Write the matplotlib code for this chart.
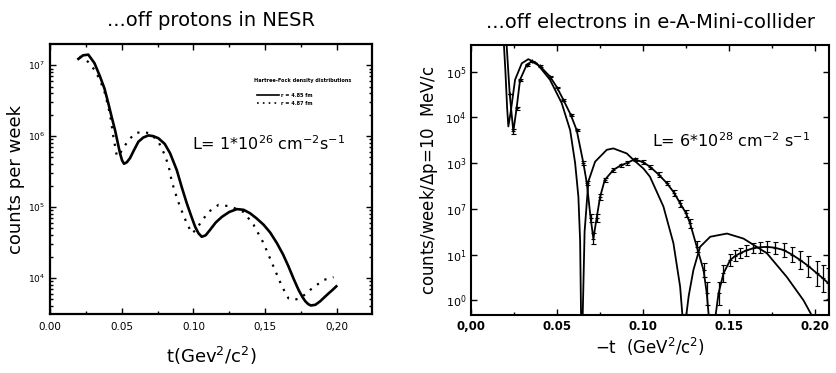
import numpy as np
import matplotlib
matplotlib.use("Agg")
import matplotlib.pyplot as plt
from matplotlib.ticker import FixedLocator, MultipleLocator, NullFormatter

# left panel: protons in NESR (log10 of counts per week)
t_p_solid = [0.0198, 0.0230, 0.0267, 0.0310, 0.0349, 0.0380, 0.0407, 0.0430, 0.0454, 0.0475,
             0.0488, 0.0502, 0.0516, 0.0535, 0.0558, 0.0585, 0.0616, 0.0650, 0.0686, 0.0720,
             0.0756, 0.0800, 0.0837, 0.0884, 0.0920, 0.0954, 0.0985, 0.1012, 0.1035, 0.1058,
             0.1085, 0.1117, 0.1155, 0.1198, 0.1250, 0.1303, 0.1350, 0.1396, 0.1440, 0.1489,
             0.1535, 0.1582, 0.1625, 0.1663, 0.1700, 0.1733, 0.1760, 0.1780, 0.1800, 0.1819,
             0.1850, 0.1884, 0.1915, 0.1942, 0.1970, 0.1996]
lg_p_solid = [7.09, 7.14, 7.15, 7.03, 6.84, 6.67, 6.46, 6.27, 6.08, 5.88,
              5.76, 5.66, 5.61, 5.63, 5.69, 5.80, 5.92, 5.98, 6.01, 6.00,
              5.97, 5.89, 5.76, 5.52, 5.27, 5.05, 4.87, 4.72, 4.63, 4.58,
              4.60, 4.68, 4.78, 4.86, 4.93, 4.97, 4.96, 4.91, 4.84, 4.75,
              4.64, 4.49, 4.33, 4.16, 3.98, 3.83, 3.73, 3.67, 3.63, 3.61,
              3.62, 3.67, 3.73, 3.78, 3.83, 3.88]

t_p_dot = [0.0205, 0.0240, 0.0279, 0.0315, 0.0349, 0.0384, 0.0419, 0.0442, 0.0465, 0.0482,
           0.0500, 0.0547, 0.0593, 0.0640, 0.0698, 0.0756, 0.0790, 0.0826, 0.0849, 0.0880,
           0.0907, 0.0954, 0.0989, 0.1020, 0.1047, 0.1105, 0.1175, 0.1256, 0.1349, 0.1419,
           0.1489, 0.1558, 0.1617, 0.1663, 0.1700, 0.1745, 0.1814, 0.1907, 0.1977]
lg_p_dot = [7.12, 7.10, 7.02, 6.92, 6.79, 6.60, 6.30, 5.99, 5.73, 5.72,
            5.80, 5.94, 6.04, 6.06, 6.04, 5.92, 5.78, 5.59, 5.36, 5.16,
            5.00, 4.77, 4.63, 4.68, 4.77, 4.93, 5.03, 5.01, 4.93, 4.75,
            4.49, 4.16, 3.88, 3.71, 3.69, 3.71, 3.83, 3.97, 4.01]

# right panel: electrons in e-A-Mini-collider (log10 of counts/week/dp)
t_e_a = [0.0185, 0.0200, 0.0210, 0.0217, 0.0230, 0.0256, 0.0295, 0.0333, 0.0382, 0.0459,
         0.0527, 0.0576, 0.0605, 0.0624, 0.0634, 0.0640, 0.0648, 0.0660, 0.0682, 0.0721,
         0.0789, 0.0827, 0.0905, 0.0944, 0.1002, 0.1040, 0.1118, 0.1176, 0.1215, 0.1232,
         0.1245, 0.1265, 0.1292, 0.1331, 0.1390, 0.1487, 0.1583, 0.1719, 0.1835, 0.1932,
         0.1980, 0.1995]
lg_e_a = [6.0, 5.0, 4.2, 3.80, 4.10, 4.82, 5.18, 5.27, 5.18, 4.82,
          4.31, 3.72, 3.00, 2.26, 1.30, -0.5, -0.5, 1.50, 2.60, 3.03,
          3.29, 3.32, 3.21, 3.07, 2.88, 2.70, 2.05, 1.25, 0.30, -0.5,
          -0.5, 0.10, 0.66, 1.17, 1.39, 1.46, 1.35, 1.03, 0.51, 0.00,
          -0.33, -0.6]

t_e_b = [0.0200, 0.0225, 0.0246, 0.0265, 0.0285, 0.0324, 0.0353, 0.0400, 0.0459, 0.0500,
         0.0537, 0.0580, 0.0614, 0.0653, 0.0673, 0.0695, 0.0711, 0.0730, 0.0750, 0.0777,
         0.0827, 0.0870, 0.0905, 0.0950, 0.1000, 0.1040, 0.1090, 0.1138, 0.1180, 0.1215,
         0.1250, 0.1273, 0.1312, 0.1351, 0.1370, 0.1385, 0.1415, 0.1438, 0.1467, 0.1506,
         0.1535, 0.1564, 0.1600, 0.1641, 0.1680, 0.1719, 0.1765, 0.1816, 0.1865, 0.1913,
         0.1960, 0.2010, 0.2045, 0.2077]
lg_e_b = [6.0, 4.5, 3.69, 4.20, 4.82, 5.15, 5.22, 5.12, 4.89, 4.65,
          4.38, 4.05, 3.72, 3.00, 2.56, 1.80, 1.35, 1.80, 2.26, 2.63,
          2.85, 2.95, 3.00, 3.08, 3.02, 2.92, 2.75, 2.56, 2.35, 2.12,
          1.90, 1.68, 1.17, 0.66, 0.15, -0.5, -0.5, 0.15, 0.59, 0.88,
          0.97, 1.03, 1.09, 1.14, 1.16, 1.17, 1.15, 1.10, 1.00, 0.88,
          0.75, 0.59, 0.48, 0.37]
err_e_b = [0.0, 0.0, 0.05, 0.03, 0.02, 0.02, 0.02, 0.02, 0.02, 0.02,
           0.02, 0.03, 0.03, 0.04, 0.05, 0.08, 0.12, 0.08, 0.06, 0.05,
           0.04, 0.04, 0.04, 0.04, 0.04, 0.04, 0.05, 0.05, 0.06, 0.07,
           0.08, 0.09, 0.12, 0.16, 0.25, 0.0, 0.0, 0.25, 0.18, 0.14,
           0.12, 0.11, 0.11, 0.11, 0.12, 0.12, 0.13, 0.15, 0.17, 0.20,
           0.23, 0.27, 0.30, 0.33]

left_ytick_labels = ["$10^7$", "$10^6$", "$10^5$", "$10^4$"]
right_ytick_labels = ["$10^0$", "$10^1$", "$10^7$", "$10^3$", "$10^4$", "$10^5$"]
left_xtick_labels = ["0.00", "0.05", "0.10", "0,15", "0,20"]
right_xtick_labels = ["0,00", "0.05", "0.10", "0.15", "0.20"]

fig = plt.figure(figsize=(8.36, 3.73), dpi=100)

# ---------------- left panel ----------------
ax1 = fig.add_axes([50 / 836, 1 - 314 / 373, 322 / 836, 270 / 373])
ax1.set_yscale("log")
ax1.plot(t_p_solid, 10 ** np.array(lg_p_solid), color="black", lw=1.9)
ax1.plot(t_p_dot, 10 ** np.array(lg_p_dot), color="black", lw=1.6, ls=(0, (1, 3)))
ax1.set_xlim(0, 0.2245)
ax1.set_ylim(10 ** 3.49, 10 ** 7.30)
ax1.yaxis.set_major_locator(FixedLocator([1e7, 1e6, 1e5, 1e4]))
ax1.set_yticklabels(left_ytick_labels, fontsize=6.5)
ax1.yaxis.set_minor_formatter(NullFormatter())
ax1.set_xticks([0, 0.05, 0.10, 0.15, 0.20])
ax1.set_xticklabels(left_xtick_labels, fontsize=7.5)
ax1.xaxis.set_minor_locator(MultipleLocator(0.025))
ax1.tick_params(which="both", direction="in", top=True, right=True, width=1.0)
ax1.tick_params(which="major", length=4)
ax1.tick_params(axis="x", which="major", pad=6)
ax1.tick_params(which="minor", length=2)
for s in ax1.spines.values():
    s.set_linewidth(1.6)
ax1.set_ylabel("counts per week", fontsize=13, labelpad=2)
ax1.set_xlabel("t(Gev$^2$/c$^2$)", fontsize=13, labelpad=9)
ax1.set_title("...off protons in NESR", fontsize=14, pad=13)
ax1.text(0.099, 10 ** 5.80, "L= 1*10$^{26}$ cm$^{-2}$s$^{-1}$", fontsize=11.5)

# tiny legend block
ax1.text(0.142, 10 ** 6.76, "Hartree-Fock density distributions", fontsize=3.6, weight="bold")
ax1.plot([0.144, 0.160], [10 ** 6.58, 10 ** 6.58], color="black", lw=1.2)
ax1.text(0.161, 10 ** 6.55, "r = 4.85 fm", fontsize=3.6, weight="bold")
ax1.plot([0.144, 0.160], [10 ** 6.47, 10 ** 6.47], color="black", lw=1.2, ls=(0, (1, 2.5)))
ax1.text(0.161, 10 ** 6.44, "r = 4.87 fm", fontsize=3.6, weight="bold")

# ---------------- right panel ----------------
ax2 = fig.add_axes([471 / 836, 1 - 315 / 373, 358 / 836, 270 / 373])
ax2.set_yscale("log")
ax2.plot(t_e_a, 10 ** np.array(lg_e_a), color="black", lw=1.3)
yb = 10 ** np.array(lg_e_b)
eb = np.array(err_e_b)
lo = yb - 10 ** (np.array(lg_e_b) - eb)
hi = 10 ** (np.array(lg_e_b) + eb) - yb
ax2.errorbar(t_e_b, yb, yerr=[lo, hi], color="black", lw=1.3, elinewidth=0.9,
             capsize=1.8, capthick=0.9, marker="+", ms=3, mew=0.8)
ax2.set_xlim(0, 0.208)
ax2.set_ylim(10 ** -0.32, 10 ** 5.58)
ax2.yaxis.set_major_locator(FixedLocator([1, 10, 100, 1e3, 1e4, 1e5]))
ax2.set_yticklabels(right_ytick_labels, fontsize=8)
ax2.yaxis.set_minor_locator(FixedLocator([]))
ax2.set_xticks([0, 0.05, 0.10, 0.15, 0.20])
ax2.set_xticklabels(right_xtick_labels, fontsize=8.5, weight="bold")
ax2.xaxis.set_minor_locator(MultipleLocator(0.025))
ax2.tick_params(which="both", direction="in", top=True, right=True, width=1.0)
ax2.tick_params(which="major", length=4)
ax2.tick_params(which="minor", length=2.5)
for s in ax2.spines.values():
    s.set_linewidth(1.5)
ax2.set_ylabel("counts/week/$\\Delta$p=10  MeV/c", fontsize=12, labelpad=4)
ax2.set_xlabel("$-$t  (GeV$^2$/c$^2$)", fontsize=12, labelpad=2)
ax2.set_title("...off electrons in e-A-Mini-collider", fontsize=14, pad=12)
ax2.text(0.105, 10 ** 3.35, "L= 6*10$^{28}$ cm$^{-2}$ s$^{-1}$", fontsize=11.5)

fig.savefig("out.png", dpi=100)
